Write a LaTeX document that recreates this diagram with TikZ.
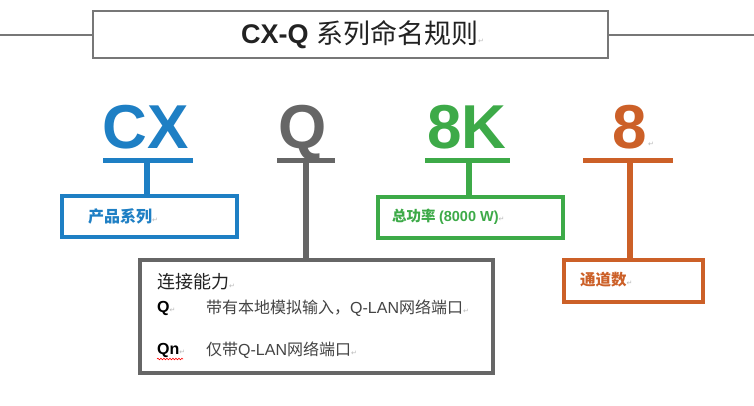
\documentclass[tikz,border=0pt]{standalone}
\usepackage{fontspec}
\setmainfont{Liberation Sans}
\newfontfamily\cjk{Noto Sans CJK SC}
\newfontfamily\symf{DejaVu Sans}
\usetikzlibrary{decorations.pathmorphing}
\definecolor{cxblue}{HTML}{1E7FC4}
\definecolor{qgray}{HTML}{666666}
\definecolor{kgreen}{HTML}{3DAA48}
\definecolor{chorange}{HTML}{CC6028}
\definecolor{linegray}{HTML}{777777}
\definecolor{txtdark}{HTML}{222222}
\definecolor{txtgray}{HTML}{444444}
\newcommand{\retmark}{{\symf\mdseries\fontsize{7}{7}\selectfont\textcolor{gray!55}{↵}}}
\tikzset{
  bigletter/.style={inner sep=0pt, anchor=base, font=\fontsize{62}{62}\selectfont\bfseries},
  bar/.style={line width=5pt},
  stem/.style={line width=6pt},
  labelbox/.style={draw, line width=4pt, inner sep=0pt, anchor=north west},
  lbl/.style={inner sep=0pt, anchor=west},
}
\begin{document}
\begin{tikzpicture}[x=1pt,y=-1pt]
\useasboundingbox (0,0) rectangle (754,405);
\fill[white] (0,0) rectangle (754,405);

% title
\node[draw=linegray, line width=2pt, minimum width=515pt, minimum height=47pt, inner sep=0pt] (title) at (350.5,34.5) {};
\node[inner sep=0pt, anchor=base west, text=txtdark] (titletext) at (241,43)
  {\fontsize{27}{27}\selectfont\bfseries CX-Q\mdseries\ \cjk 系列命名规则\retmark};
\coordinate (tl) at (0,34.5);
\coordinate (tr) at (754,34.5);
\draw[linegray, line width=2pt] (tl) -- (title.west);
\draw[linegray, line width=2pt] (title.east) -- (tr);

% big letters
\node[bigletter, text=cxblue] (cx) at (146,148) {CX};
\node[bigletter, text=qgray] (q) at (303,148) {Q};
\node[bigletter, text=kgreen] (k) at (467,148) {8K};
\node[bigletter, text=chorange] (ch) at (630,148) {8};
\node[inner sep=0pt, anchor=base west] (chret) at (648,146) {\retmark};

% bars
\coordinate (cxl) at (103,160.5); \coordinate (cxr) at (193,160.5); \coordinate (cxbar) at (147,160.5);
\coordinate (ql) at (277,160.5); \coordinate (qr) at (335,160.5); \coordinate (qbar) at (306,160.5);
\coordinate (kl) at (425,160.5); \coordinate (kr) at (510,160.5); \coordinate (kbar) at (469,160.5);
\coordinate (chl) at (583,160.5); \coordinate (chr) at (673,160.5); \coordinate (chbar) at (630,160.5);
\draw[bar, cxblue] (cxl) -- (cxr);
\draw[bar, qgray] (ql) -- (qr);
\draw[bar, kgreen] (kl) -- (kr);
\draw[bar, chorange] (chl) -- (chr);

% boxes
\node[labelbox, draw=cxblue, minimum width=175pt, minimum height=41pt] (cxbox) at (60,194) {};
\node[labelbox, draw=kgreen, minimum width=185pt, minimum height=41pt] (kbox) at (376,195) {};
\node[labelbox, draw=chorange, minimum width=139pt, minimum height=42pt] (chbox) at (562,258) {};
\node[labelbox, draw=qgray, minimum width=353pt, minimum height=113pt] (qbox) at (138,258) {};

% stems
\draw[stem, cxblue] (cxbar) -- (cxbar |- cxbox.north);
\draw[stem, qgray] (qbar) -- (qbar |- qbox.north);
\draw[stem, kgreen] (kbar) -- (kbar |- kbox.north);
\draw[stem, chorange] (chbar) -- (chbar |- chbox.north);

% labels
\node[lbl, text=cxblue] (cxlbl) at (88,216) {\fontsize{16}{16}\selectfont\cjk\bfseries 产品系列\retmark};
\node[lbl, text=kgreen] (klbl) at (392,217) {\fontsize{14.5}{14.5}\selectfont\cjk\bfseries 总功率 \rmfamily\bfseries (8000 W)\retmark};
\node[lbl, text=chorange] (chlbl) at (580,280) {\fontsize{15.5}{15.5}\selectfont\cjk\bfseries 通道数\retmark};

% connectivity box text
\node[lbl, text=txtdark] (cap) at (157,282) {\fontsize{18}{18}\selectfont\cjk 连接能力\retmark};
\node[lbl, text=black] (qa) at (157,308) {\fontsize{16}{16}\selectfont\bfseries Q\retmark};
\node[lbl, text=txtgray] (qad) at (206,308) {\fontsize{16}{16}\selectfont{\cjk 带有本地模拟输入，}Q-LAN{\cjk 网络端口}\retmark};
\node[lbl, text=black] (qn) at (157,350) {\fontsize{16}{16}\selectfont\bfseries Qn\retmark};
\node[lbl, text=txtgray] (qnd) at (206,350) {\fontsize{16}{16}\selectfont{\cjk 仅带}Q-LAN{\cjk 网络端口}\retmark};
\coordinate (sq1) at (157,359);
\coordinate (sq2) at (183,359);
\draw[red, line width=0.6pt, decorate, decoration={snake, amplitude=0.8pt, segment length=3pt}] (sq1) -- (sq2);
\end{tikzpicture}
\end{document}
